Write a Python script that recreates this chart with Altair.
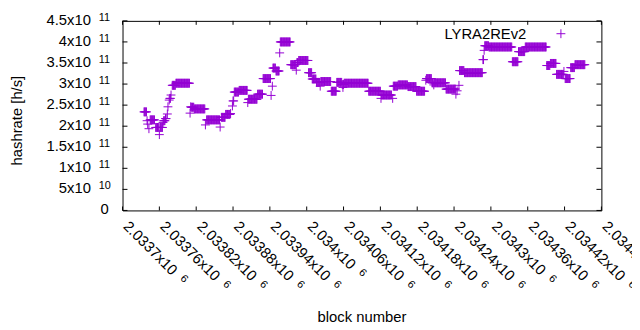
import altair as alt
import pandas as pd

FONT = "Liberation Sans"
PURPLE = "#9400d3"
BASE = 2033700

# runs of constant hashrate: block offsets (from BASE) and value in units of 1e11 H/s
run_start = [35, 40, 41, 43, 45, 54, 60, 61, 66, 67, 70, 73, 74, 76, 77, 79, 81, 87,
             110, 111, 112, 117, 135, 137, 159, 161, 168, 176, 179, 180, 182, 190,
             204, 205, 220, 229, 242, 244, 245, 250, 256, 257, 274, 283, 284, 287,
             303, 309, 316, 322, 323, 340, 349, 358, 359, 360, 361, 401, 421, 422,
             440, 441, 449, 465, 479, 494, 495, 504, 507, 508, 527, 543, 545, 548,
             549, 557, 587, 589, 590, 597, 635, 645, 656, 691, 697, 707, 719, 721,
             730, 737]
run_end = [39, 40, 41, 43, 52, 59, 60, 65, 66, 69, 71, 73, 74, 76, 78, 79, 86, 109,
           110, 111, 116, 134, 135, 158, 159, 167, 175, 176, 179, 181, 189, 203,
           204, 219, 228, 241, 242, 244, 249, 255, 256, 273, 282, 283, 286, 302,
           308, 315, 321, 322, 339, 348, 357, 358, 359, 360, 400, 420, 421, 438,
           440, 448, 464, 478, 492, 494, 503, 506, 507, 526, 542, 543, 545, 548,
           556, 586, 588, 589, 596, 634, 644, 655, 690, 696, 706, 718, 719, 729,
           736, 753]
run_value = [2.34, 2.13, 2.05, 1.94, 2.15, 1.97, 1.80, 1.97, 2.09, 2.13, 2.18, 2.29,
             2.46, 2.62, 2.66, 2.74, 2.97, 3.02, 2.31, 2.46, 2.45, 2.41, 2.03, 2.15,
             1.98, 2.21, 2.28, 2.30, 2.48, 2.60, 2.81, 2.85, 2.56, 2.64, 2.76, 3.13,
             2.73, 2.95, 3.38, 3.31, 3.74, 4.00, 3.46, 3.33, 3.51, 3.56, 3.27, 3.12,
             3.04, 2.95, 3.06, 2.83, 3.04, 2.99, 2.92, 2.99, 3.02, 2.83, 2.66, 2.74,
             2.66, 2.95, 2.98, 2.94, 2.83, 3.09, 3.13, 3.03, 2.98, 3.03, 2.88, 2.76,
             2.84, 2.97, 3.32, 3.27, 3.58, 3.80, 3.91, 3.88, 3.53, 3.77, 3.88, 3.44,
             3.49, 3.23, 3.30, 3.13, 3.39, 3.46]

x_ticks = [2033700, 2033760, 2033820, 2033880, 2033940, 2034000, 2034060,
           2034120, 2034180, 2034240, 2034300, 2034360, 2034420, 2034480]
x_mant = ["2.0337x10", "2.03376x10", "2.03382x10", "2.03388x10", "2.03394x10",
          "2.034x10", "2.03406x10", "2.03412x10", "2.03418x10", "2.03424x10",
          "2.0343x10", "2.03436x10", "2.03442x10", "2.03448x10"]
x_exp = ["6"] * 14

y_ticks = [0, 5e10, 1e11, 1.5e11, 2e11, 2.5e11, 3e11, 3.5e11, 4e11, 4.5e11]
y_mant = ["0", "5x10", "1x10", "1.5x10", "2x10", "2.5x10", "3x10", "3.5x10", "4x10", "4.5x10"]
y_exp = ["", "10", "11", "11", "11", "11", "11", "11", "11", "11"]

series_name = "LYRA2REv2"
x_title = "block number"
y_title = "hashrate [h/s]"

rows = []
for s, e, v in zip(run_start, run_end, run_value):
    for b in range(s, e + 1):
        rows.append({"block": BASE + b, "hashrate": v * 1e11})
df = pd.DataFrame(rows)

W, H = 485, 192
xs = alt.Scale(domain=[x_ticks[0], x_ticks[-1]], nice=False, zero=False)
ys = alt.Scale(domain=[y_ticks[0], y_ticks[-1]], nice=False, zero=False)

PLUS = "M-1,0L1,0M0,-1L0,1"

points = alt.Chart(df).mark_point(
    shape=PLUS, size=81, filled=False, strokeWidth=1, color=PURPLE, opacity=1
).encode(
    x=alt.X("block:Q", scale=xs, axis=None),
    y=alt.Y("hashrate:Q", scale=ys, axis=None),
)

xt = pd.DataFrame({"t": x_ticks, "mant": x_mant, "exp": x_exp})
yt = pd.DataFrame({"v": y_ticks, "mant": y_mant, "exp": y_exp})

XA = alt.X("t:Q", scale=xs, axis=None)
YA = alt.Y("v:Q", scale=ys, axis=None)

xtick_b = alt.Chart(xt).mark_rule(color="black", strokeWidth=1).encode(
    x=XA, y=alt.value(H), y2=alt.value(H - 4))
xtick_t = alt.Chart(xt).mark_rule(color="black", strokeWidth=1).encode(
    x=XA, y=alt.value(0), y2=alt.value(4))
ytick_l = alt.Chart(yt).mark_rule(color="black", strokeWidth=1).encode(
    y=YA, x=alt.value(0), x2=alt.value(5))
ytick_r = alt.Chart(yt).mark_rule(color="black", strokeWidth=1).encode(
    y=YA, x=alt.value(W), x2=alt.value(W - 5))

LY = H + 17
xlab = alt.Chart(xt).mark_text(
    angle=45, align="left", baseline="alphabetic", font=FONT, fontSize=15, color="black"
).encode(x=XA, y=alt.value(LY), text="mant:N")

CW = {".": 0.278, "x": 0.5}
def width_px(s, size):
    return sum(CW.get(c, 0.556) for c in s) * size

xt["dx"] = [round(width_px(m, 15) + 8, 1) for m in x_mant]
exp_layers = []
for dxv, grp in xt.groupby("dx"):
    exp_layers.append(
        alt.Chart(grp[["t", "exp"]]).mark_text(
            angle=45, align="left", baseline="alphabetic", font=FONT, fontSize=11,
            color="black", dx=float(dxv), dy=-4
        ).encode(x=XA, y=alt.value(LY), text="exp:N")
    )

yt_e = yt[yt["exp"] != ""]
yt_0 = yt[yt["exp"] == ""]
ylab = alt.Chart(yt_e).mark_text(
    align="right", baseline="alphabetic", font=FONT, fontSize=15, color="black", dy=4
).encode(y=YA, x=alt.value(-32), text="mant:N")
yexp = alt.Chart(yt_e).mark_text(
    align="left", baseline="alphabetic", font=FONT, fontSize=11, color="black", dy=0
).encode(y=YA, x=alt.value(-24), text="exp:N")
yzero = alt.Chart(yt_0).mark_text(
    align="right", baseline="alphabetic", font=FONT, fontSize=15, color="black", dy=4
).encode(y=YA, x=alt.value(-14), text="mant:N")

titles = pd.DataFrame({"x_title": [x_title], "y_title": [y_title], "name": [series_name]})
xtitle = alt.Chart(titles).mark_text(
    align="center", baseline="alphabetic", font=FONT, fontSize=15, color="black"
).encode(x=alt.value(W / 2), y=alt.value(305), text="x_title:N")
ytitle = alt.Chart(titles).mark_text(
    align="center", baseline="alphabetic", font=FONT, fontSize=15, color="black", angle=270
).encode(x=alt.value(-102), y=alt.value(101), text="y_title:N")

leg_text = alt.Chart(titles).mark_text(
    align="right", baseline="alphabetic", font=FONT, fontSize=15, color="black"
).encode(x=alt.value(409), y=alt.value(18), text="name:N")
leg_pt = alt.Chart(titles).mark_point(
    shape=PLUS, size=81, filled=False, strokeWidth=1, color=PURPLE, opacity=1
).encode(x=alt.value(444), y=alt.value(13))

chart = alt.layer(
    points, xtick_b, xtick_t, ytick_l, ytick_r, xlab, *exp_layers, ylab, yexp, yzero,
    xtitle, ytitle, leg_text, leg_pt
).properties(
    width=W, height=H,
    autosize=alt.AutoSizeParams(type="none"),
    padding={"left": 116, "top": 11, "right": 31, "bottom": 115},
    background="white",
).configure_view(stroke="black", strokeWidth=1)

chart.save("out.html", embed_options={"renderer": "svg", "actions": False})
